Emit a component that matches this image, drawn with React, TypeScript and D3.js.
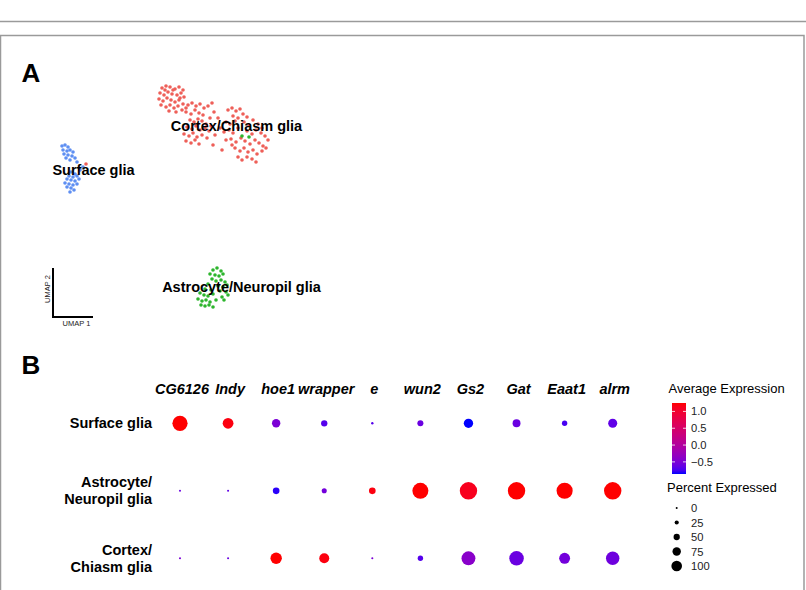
import React from "react";
import * as d3 from "d3";

// ---------- Panel A: UMAP coordinates ----------
const cortexUmap: [number, number][] = [
  [-3.8, 11.2], [-3.4, 11.4], [-3.0, 11.3], [-2.5, 11.1], [-2.1, 11.3], [-1.7, 11.0], [-4.0, 10.7], [-3.6, 10.5],
  [-3.2, 10.8], [-2.8, 10.6], [-2.3, 10.5], [-1.9, 10.7], [-1.6, 10.3], [-4.1, 10.1], [-3.7, 9.9], [-3.3, 10.2],
  [-2.9, 10.0], [-2.5, 9.8], [-2.1, 10.0], [-1.7, 9.6], [-3.9, 9.5], [-3.4, 9.3], [-3.0, 9.5], [-2.6, 9.2],
  [-2.2, 9.4], [-3.1, 8.9], [-2.4, 8.8], [-1.8, 9.0], [-1.4, 9.2], [-2.7, 11.0], [-3.5, 11.0], [-2.0, 10.2],
  [-1.2, 9.5], [-0.8, 9.7], [-0.4, 9.4], [0.0, 9.6], [0.4, 9.2], [0.8, 9.4], [-1.4, 8.8], [-0.9, 8.6],
  [-0.5, 9.0], [-0.1, 8.7], [0.3, 8.5], [-1.0, 8.0], [-0.6, 7.8], [-0.2, 8.1], [0.2, 7.9], [0.6, 7.6],
  [1.0, 8.2], [-1.3, 7.3], [-0.8, 7.1], [-0.4, 7.4], [0.0, 7.0], [0.5, 7.2], [0.9, 6.9], [-1.6, 6.6],
  [-1.1, 6.4], [-0.7, 6.7], [-0.3, 6.3], [0.2, 6.5], [0.7, 6.2], [-1.4, 5.9], [-0.9, 5.7], [-0.5, 6.0],
  [-0.1, 5.6], [1.1, 7.4], [1.4, 8.8], [1.2, 9.7],
  [2.8, 9.0], [3.2, 9.2], [3.6, 8.9], [4.0, 9.1], [3.3, 8.4], [3.8, 8.2], [4.3, 8.6], [4.7, 8.3],
  [2.6, 7.8], [3.0, 7.6], [3.5, 7.9], [4.4, 7.8], [4.9, 7.5], [5.3, 8.0], [5.8, 7.6], [6.2, 7.2],
  [2.9, 7.0], [3.3, 6.7], [3.8, 7.2], [4.7, 6.9], [5.2, 6.6], [5.6, 7.0], [6.1, 6.7], [6.5, 6.4],
  [3.1, 6.1], [3.6, 5.8], [4.1, 6.2], [4.5, 5.9], [5.0, 5.6], [5.5, 6.0], [5.9, 5.7], [6.3, 5.4],
  [3.5, 5.2], [4.0, 4.9], [4.4, 5.2], [4.8, 4.8], [5.3, 5.0], [5.7, 4.6], [6.2, 4.9], [6.6, 5.2],
  [3.8, 4.3], [4.2, 4.0], [4.7, 4.3], [5.2, 4.1], [5.6, 3.8], [3.2, 5.5], [6.8, 6.0], [2.4, 6.8],
  [2.6, 6.0], [1.8, 8.2], [2.0, 7.2], [1.5, 6.5], [1.3, 5.5], [2.2, 5.0],
  [-11.4, 3.6],
];

const surfaceUmap: [number, number][] = [
  [-13.8, 5.4], [-13.5, 5.5], [-13.2, 5.3], [-13.7, 5.0], [-13.3, 4.9], [-13.0, 5.0], [-12.7, 4.8], [-13.6, 4.6],
  [-13.2, 4.5], [-12.8, 4.4], [-12.5, 4.2], [-13.4, 4.2], [-13.0, 4.0], [-12.3, 3.8], [-12.9, 2.8], [-12.5, 2.6],
  [-13.1, 2.4], [-12.7, 2.3], [-12.3, 2.4], [-13.3, 2.1], [-12.9, 2.0], [-12.5, 1.9], [-12.1, 2.1], [-13.5, 1.7],
  [-13.1, 1.6], [-12.7, 1.5], [-12.3, 1.6], [-13.3, 1.3], [-12.9, 1.2], [-12.6, 1.0], [-13.0, 0.8], [-12.0, 3.0],
  [-11.7, 3.3],
];

const astroUmap: [number, number][] = [
  [1.3, -7.0], [1.7, -6.8], [2.1, -7.1], [1.0, -7.4], [1.5, -7.5], [1.9, -7.6], [2.3, -7.4], [1.2, -7.9],
  [1.6, -8.1], [2.1, -8.0], [2.5, -8.2], [0.8, -8.4], [1.8, -8.6], [2.3, -8.7], [2.7, -8.5], [0.5, -8.9],
  [1.1, -9.0], [2.0, -9.1], [2.6, -9.2], [0.0, -9.3], [0.4, -9.5], [0.8, -9.6], [1.3, -9.4], [2.2, -9.7],
  [2.8, -9.5], [-0.2, -9.9], [0.2, -10.1], [0.6, -10.0], [1.0, -10.2], [1.6, -10.0], [0.1, -10.5], [0.5, -10.6],
  [0.9, -10.5], [1.3, -10.7], [2.4, -10.0],
  [4.2, 6.4], [4.9, 6.3],
];

const clusterNames = ["Surface glia", "Cortex/Chiasm glia", "Astrocyte/Neuropil glia"];

// ---------- Panel B: dot plot ----------
const genes = ["CG6126", "Indy", "hoe1", "wrapper", "e", "wun2", "Gs2", "Gat", "Eaat1", "alrm"];
const rowKeys = ["Surface", "Astro", "Cortex"];
const rowLabels = [["Surface glia"], ["Astrocyte/", "Neuropil glia"], ["Cortex/", "Chiasm glia"]];

const surfaceAvg = [1.25, 1.2, -0.5, -0.7, -0.7, -0.6, -0.86, -0.6, -0.75, -0.65];
const astroAvg = [-0.6, -0.65, -0.82, -0.55, 1.2, 1.25, 1.12, 1.25, 1.25, 1.25];
const cortexAvg = [-0.5, -0.6, 1.25, 1.2, -0.5, -0.7, -0.4, -0.6, -0.55, -0.58];

const surfacePct = [86, 58, 43, 30, 5, 28, 49, 40, 24, 47];
const astroPct = [3, 3, 32, 22, 32, 91, 100, 100, 92, 100];
const cortexPct = [3, 3, 62, 53, 3, 24, 78, 82, 59, 75];

const colorTicks = [1.0, 0.5, 0.0, -0.5];
const sizeTicks = [0, 25, 50, 75, 100];

const FONT = "'Liberation Sans', Arial, Helvetica, sans-serif";

export default function App() {
  const W = 806, H = 590;

  // Panel A scales
  const ux = d3.scaleLinear().domain([-20, 20]).range([0, 400]);
  const uy = d3.scaleLinear().domain([-20, 20]).range([400, 0]);
  const clusterColors = ["#5E8FF2", "#EE5F58", "#2DB52D"];
  const clusters = [surfaceUmap, cortexUmap, astroUmap];

  // Panel B scales
  const gx = d3.scalePoint<string>().domain(genes).range([180, 612.7]);
  const ry = d3.scalePoint<string>().domain(rowKeys).range([423.3, 558.3]);
  const avgRows = [surfaceAvg, astroAvg, cortexAvg];
  const pctRows = [surfacePct, astroPct, cortexPct];
  const allAvg = avgRows.flat();
  const ext = d3.extent(allAvg) as [number, number];
  const color = d3.scaleLinear<string>().domain(ext).range(["#0000ff", "#ff0000"]).interpolate(d3.interpolateLab);
  const rScale = d3.scaleLinear().domain([0, 100]).range([0.8, 8.7]);
  const rLegend = d3.scaleLinear().domain([0, 100]).range([1, 5.3]);

  // colorbar
  const cbX = 672, cbW = 14;
  const cbY = d3.scaleLinear().domain(ext).range([474, 403]);
  const stops = d3.range(0, 1.0001, 0.05);

  const sizeY = d3.scalePoint<string>().domain(sizeTicks.map(String)).range([508, 566]);

  return (
    <svg width={W} height={H} style={{ position: "absolute", left: 0, top: 0, background: "#fff" }} fontFamily={FONT}>
      <defs>
        <linearGradient id="cb" x1="0" y1="1" x2="0" y2="0">
          {stops.map((t, i) => (
            <stop key={i} offset={t} stopColor={color(ext[0] + t * (ext[1] - ext[0]))} />
          ))}
        </linearGradient>
      </defs>
      <rect x={0} y={0} width={W} height={H} fill="#fff" />
      <line x1={0} x2={W} y1={21.5} y2={21.5} stroke="#9a9a9a" strokeWidth={1.5} />
      <rect x={0.5} y={35.5} width={803.5} height={600} fill="none" stroke="#9a9a9a" strokeWidth={1.5} />

      {/* Panel A */}
      <text x={21.5} y={81.5} fontSize={26} fontWeight="bold">A</text>
      {clusters.map((pts, ci) => (
        <g key={ci} fill={clusterColors[ci]}>
          {pts.map((p, i) => (
            <circle key={i} cx={ux(p[0])} cy={uy(p[1])} r={1.8} />
          ))}
        </g>
      ))}
      <text x={93.5} y={174.5} fontSize={14.5} fontWeight="bold" textAnchor="middle">{clusterNames[0]}</text>
      <text x={236.5} y={131} fontSize={14.5} fontWeight="bold" textAnchor="middle">{clusterNames[1]}</text>
      <text x={241.5} y={292} fontSize={14.5} fontWeight="bold" textAnchor="middle">{clusterNames[2]}</text>
      <path d="M53,268 V317 H93" fill="none" stroke="#000" strokeWidth={2} />
      <text x={76.5} y={326} fontSize={7.5} textAnchor="middle" fill="#222">UMAP 1</text>
      <text transform="translate(49.5,289) rotate(-90)" fontSize={7.5} textAnchor="middle" fill="#222">UMAP 2</text>

      {/* Panel B */}
      <text x={21.5} y={374} fontSize={26} fontWeight="bold">B</text>
      {genes.map((g) => (
        <text key={g} x={(gx(g) as number) + 2} y={394} fontSize={14.5} fontWeight="bold" fontStyle="italic" textAnchor="middle">{g}</text>
      ))}
      {rowKeys.map((k, ri) => {
        const lines = rowLabels[ri];
        const cy = ry(k) as number;
        return (
          <text key={k} fontSize={14.5} fontWeight="bold" textAnchor="end">
            {lines.map((ln, li) => (
              <tspan key={li} x={152} y={cy + 5 + (li - (lines.length - 1) / 2) * 17}>{ln}</tspan>
            ))}
          </text>
        );
      })}
      {rowKeys.map((k, ri) =>
        genes.map((g, gi) => (
          <circle key={k + g} cx={gx(g) as number} cy={ry(k) as number} r={rScale(pctRows[ri][gi])} fill={color(avgRows[ri][gi])} />
        ))
      )}

      {/* Legend: colour */}
      <text x={668.5} y={393} fontSize={13}>Average Expression</text>
      <rect x={cbX} y={403} width={cbW} height={71} fill="url(#cb)" />
      {colorTicks.map((t) => (
        <g key={t}>
          <line x1={cbX} x2={cbX + 3} y1={cbY(t)} y2={cbY(t)} stroke="#fff" strokeWidth={0.8} />
          <line x1={cbX + cbW - 3} x2={cbX + cbW} y1={cbY(t)} y2={cbY(t)} stroke="#fff" strokeWidth={0.8} />
          <text x={691} y={cbY(t) + 4} fontSize={11.2} fill="#222">{t < 0 ? "\u2212" + Math.abs(t).toFixed(1) : t.toFixed(1)}</text>
        </g>
      ))}

      {/* Legend: size */}
      <text x={667} y={492} fontSize={13}>Percent Expressed</text>
      {sizeTicks.map((s) => (
        <g key={s}>
          <circle cx={676.7} cy={sizeY(String(s)) as number} r={rLegend(s)} fill="#000" />
          <text x={691} y={(sizeY(String(s)) as number) + 4} fontSize={11.2} fill="#222">{s}</text>
        </g>
      ))}
    </svg>
  );
}
